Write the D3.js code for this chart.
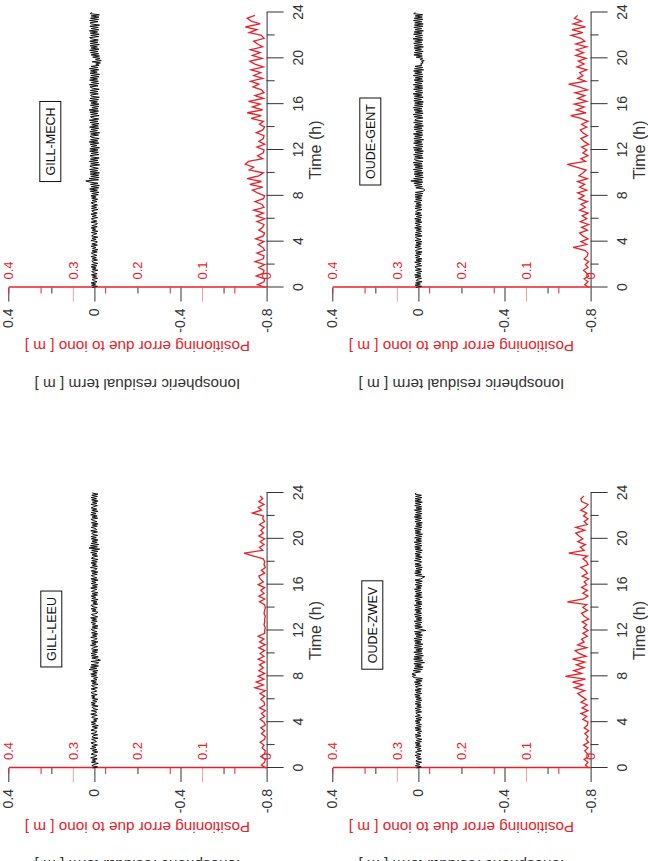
<!DOCTYPE html>
<html>
<head>
<meta charset="utf-8">
<script src="https://cdn.jsdelivr.net/npm/d3@7"></script>
<style>
  body { margin: 0; background: #fff; }
  svg { display: block; }
  text { font-family: "Liberation Sans", Arial, sans-serif; }
</style>
</head>
<body>
<svg id="chart" width="648" height="861"></svg>
<script>
// ionospheric residual term, mm, one sample every 6 min (0..24 h)
var gillLeeuResid = [
  8,-15,12,3,-18,14,-6,10,-13,17,-4,-12,15,6,-16,9,-11,18,-7,12,
  -14,5,16,-10,-3,13,-17,11,7,-15,14,-8,-12,16,2,-14,10,-18,13,-5,
  15,-11,4,-16,12,9,-13,17,-7,-10,14,-15,6,11,-17,13,-4,15,-12,8,
  -16,12,-3,14,-13,10,16,-11,-6,15,-14,7,13,-17,11,-9,16,-12,4,-15,
  14,-10,17,-13,8,-16,25,-12,18,-19,15,-14,-20,16,-28,-15,12,-18,14,-9,
  16,-14,10,-17,13,5,-15,18,-8,12,-16,14,-6,-13,17,-11,9,-15,13,-12,
  6,15,-14,11,-17,9,-5,16,-13,12,-10,17,-15,4,14,-12,-16,10,-8,15,
  -13,11,16,-15,7,-12,14,-17,12,-6,15,-14,10,-16,13,3,-11,17,-13,9,
  -15,14,-8,12,-17,16,-11,5,14,-13,11,-16,15,-7,-12,18,-14,10,-9,16,
  -13,12,-17,14,6,-15,11,-12,17,-16,13,-24,25,-14,18,-20,15,-13,11,-17,
  14,-9,16,-15,8,12,-14,17,-11,-6,15,-13,10,-17,14,-12,5,16,-15,11,
  -13,17,-8,14,-16,12,-11,15,3,-14,16,-12,9,-17,13,-10,15,-14,12,-16,
  10];
var gillMechResid = [
  10,-14,13,-6,15,-12,4,11,-15,9,-10,14,-13,7,12,-16,10,-8,15,-11,
  13,-15,6,12,-14,10,-9,16,-12,3,14,-13,11,-16,9,-7,15,-14,12,-10,
  -13,16,-8,11,-15,13,5,-12,14,-16,10,-6,15,-13,12,-10,-14,16,-11,8,
  14,-15,11,-9,16,-13,7,12,-16,14,-10,13,-14,6,15,-12,10,-15,13,-8,
  16,-18,12,-21,19,-14,22,-20,15,-23,18,-16,21,40,-19,24,-22,17,-20,19,
  -23,20,-15,22,-18,9,21,-24,17,-19,23,-16,18,-22,14,20,-21,16,-18,22,
  -17,21,-23,15,-12,19,-20,24,-16,18,-22,11,20,-19,17,-24,21,-14,16,-20,
  22,-18,13,-21,19,-16,23,-20,8,18,-22,17,-15,21,-19,24,-17,12,-20,18,
  -21,16,-14,22,-19,20,-23,15,17,-18,21,-16,19,-22,10,20,-17,23,-20,14,
  -18,22,-15,19,-21,17,-24,20,-13,18,-20,23,-17,15,-22,-6,-28,10,-32,-5,
  -26,8,-24,15,-20,18,-17,22,-21,16,-14,20,-23,19,-16,21,-18,12,22,-20,
  17,-22,19,-15,23,-20,16,-18,21,-24,14,20,-17,22,-19,18,-21,15,-23,20,
  12];
var oudeZwevResid = [
  9,-13,14,-7,11,-15,12,5,-14,10,-9,16,-12,8,13,-15,6,-11,14,-13,
  12,-8,15,-14,10,-16,7,13,-12,15,-10,4,-15,13,-11,16,-13,9,-14,12,
  -7,15,-13,11,-16,14,-9,6,12,-15,13,-10,16,-14,8,-12,15,-11,13,-16,
  10,-13,14,-8,17,-15,12,-11,16,-14,9,13,-17,15,-10,18,-16,12,-19,20,
  28,12,30,18,-10,24,-18,20,-22,16,-14,21,-28,17,-20,22,-15,19,-23,14,
  -18,21,-16,12,-20,19,-14,17,-21,15,-12,18,-17,20,-15,11,-19,16,-13,18,
  -35,-10,15,-18,17,-12,14,-16,19,-14,10,-17,16,-13,18,-15,12,-11,17,-16,
  14,-12,18,-17,11,-15,16,-9,13,-18,17,-14,12,-16,15,-11,18,-13,10,-17,
  15,-14,12,-18,16,-11,-20,-30,13,-15,17,-12,14,-16,11,-18,15,-13,16,-10,
  -15,18,-12,14,-17,13,-9,16,-14,12,-18,15,-11,17,-16,14,-13,19,-15,11,
  -14,17,-16,12,-19,15,-10,16,-13,18,-17,13,-15,11,-18,16,-12,14,-16,19,
  -13,15,-17,12,-14,18,-16,11,-15,17,-12,14,-18,16,-11,15,-17,13,-14,16,
  10];
var oudeGentResid = [
  12,-15,16,-9,13,-17,10,6,-14,15,-12,17,-11,8,-16,14,-13,11,16,-15,
  9,-12,17,-14,11,-16,13,-7,15,-13,12,-17,14,5,-15,16,-10,13,-14,11,
  -16,15,-12,9,14,-17,16,-11,13,-15,10,-13,17,-14,12,-9,15,-16,13,-12,
  17,-14,10,-16,15,-11,13,8,-17,16,-13,14,-15,11,-12,18,-16,13,-14,15,
  -18,16,-20,14,-22,-30,-24,12,-19,17,-16,21,-20,35,-18,22,-23,16,-19,20,
  -22,18,-16,23,-20,15,-19,21,-17,24,-21,13,19,-22,17,-18,22,-20,16,-23,
  20,-17,23,-21,14,-19,22,-16,18,-24,21,-15,17,-20,23,-18,12,-22,19,-17,
  21,-23,16,-18,22,-20,17,10,-21,19,-17,24,-22,15,-19,20,-16,23,-21,18,
  -20,17,-23,21,-15,19,-22,18,-16,24,-20,14,-18,22,-21,17,-19,23,-17,16,
  -22,20,-18,15,-21,23,-19,17,-16,22,-24,18,-20,16,-17,-10,-22,-14,-27,-8,
  -20,10,-18,21,-17,19,-22,16,-14,20,-23,18,-19,22,-16,17,-21,24,-18,15,
  -19,22,-17,20,-23,16,-15,21,-20,18,-22,17,-16,23,-21,19,-18,15,-20,22,
  14];

// positioning error due to iono, mm, one sample every 15 min (0..23.75 h)
var gillLeeuPos = [1,8,3,2,9,3,2,7,4,10,3,2, 8,3,9,2,4,10,3,8,2,11,3,4,
  9,3,10,2,18,5,16,4,13,3,12,5, 11,3,13,4,10,3,12,2,11,4,13,3,
  3,2,4,3,3,2,4,3,2,3,11,3, 12,4,9,3,13,5,10,12,3,8,2,4,
  3,5,20,35,6,11,4,10,3,12,5,9, 4,11,3,6,5,22,8,13,4,12,6,10];
var gillMechPos = [2,14,4,3,16,5,4,12,3,18,5,4, 15,3,6,13,4,17,5,3,12,6,4,15,
  3,16,5,20,4,7,18,5,3,14,22,6, 26,8,30,12,5,27,20,33,28,6,14,5,
  4,15,3,12,5,4,16,6,3,11,5,24, 8,30,6,22,10,28,5,18,4,8,21,12,
  25,6,20,9,24,5,18,26,7,22,10,25, 6,14,20,4,8,27,15,33,10,24,30,18];
var oudeZwevPos = [3,8,4,10,3,5,9,4,11,3,7,4, 9,3,10,5,4,12,6,15,4,13,5,15,
  7,14,20,9,25,12,28,8,39,14,26,10, 22,9,28,7,18,24,6,20,10,14,5,12,
  4,11,6,13,3,10,14,5,12,6,36,11, 4,12,5,14,6,10,3,13,5,9,15,4,
  6,12,5,34,10,16,8,20,12,18,23,9, 23,5,10,4,11,6,15,8,4,14,15,10];
var oudeGentPos = [3,9,4,10,3,6,11,4,8,3,10,5, 4,9,27,6,15,4,12,17,5,14,3,16,
  6,13,4,17,8,15,5,18,10,20,6,17, 9,20,5,18,12,7,22,36,8,15,4,12,
  6,14,3,10,15,5,12,16,6,14,4,15, 31,7,22,10,25,6,20,9,24,5,18,34,
  8,20,12,17,6,21,10,19,7,23,11,22, 6,23,9,15,30,12,29,8,27,14,25,20];

var residStepH = 0.1;
var posStepH = 0.25;

var timeTicks = [0, 4, 8, 12, 16, 20, 24];
var timeMinor = [2, 6, 10, 14, 18, 22];
var residTicks = [0.4, 0, -0.4, -0.8];
var residMinor = [0.2, -0.2, -0.6];
var posLabels = [0.4, 0.3, 0.2, 0.1, 0];
var posMid = [0.3, 0.1];
var posMinor = [0.4, 0.35, 0.25, 0.15, 0.05];

var RED = "#e8222a", PINK = "#f2a3a3", INK = "#333";
var panelW = 275, panelH = 258.3;

// the page is drawn landscape (861 x 648) and turned a quarter left
var panels = [
  { name: "GILL-LEEU", resid: gillLeeuResid, pos: gillLeeuPos, x0: 93,    y0: 8.3,   boxX: 139, boxY: 43 },
  { name: "GILL-MECH", resid: gillMechResid, pos: gillMechPos, x0: 573.5, y0: 8.3,   boxX: 146, boxY: 42 },
  { name: "OUDE-ZWEV", resid: oudeZwevResid, pos: oudeZwevPos, x0: 93,    y0: 332.3, boxX: 143, boxY: 40 },
  { name: "OUDE-GENT", resid: oudeGentResid, pos: oudeGentPos, x0: 573.5, y0: 332.3, boxX: 146, boxY: 38 }
];

var svg = d3.select("#chart");
var page = svg.append("g").attr("transform", "translate(0,861) rotate(-90)");

function styleAxis(sel, color, size) {
  sel.selectAll("path, line").attr("stroke", color);
  sel.selectAll("text").attr("fill", color).style("font-size", size + "px")
    .style("font-family", '"Liberation Sans", Arial, sans-serif');
}

panels.forEach(function (p) {
  var g = page.append("g").attr("transform", "translate(" + p.x0 + "," + p.y0 + ")");

  var x = d3.scaleLinear().domain([0, 24]).range([0, panelW]);
  var yR = d3.scaleLinear().domain([-0.8, 0.4]).range([panelH, 0]);
  var yP = d3.scaleLinear().domain([0, 0.4]).range([panelH, 0]);

  // time axis
  var tMinor = g.append("g").attr("transform", "translate(0," + panelH + ")")
    .call(d3.axisBottom(x).tickValues(timeMinor).tickSize(8).tickFormat(""));
  tMinor.select(".domain").remove();
  styleAxis(tMinor, INK, 14);
  var tMajor = g.append("g").attr("transform", "translate(0," + panelH + ")")
    .call(d3.axisBottom(x).tickValues(timeTicks).tickSize(17).tickSizeOuter(0).tickPadding(9.5).tickFormat(String));
  styleAxis(tMajor, INK, 14);

  // black residual axis
  var rMinor = g.append("g").call(d3.axisLeft(yR).tickValues(residMinor).tickSize(6).tickFormat(""));
  rMinor.select(".domain").remove();
  styleAxis(rMinor, INK, 14);
  var rMajor = g.append("g").call(d3.axisLeft(yR).tickValues(residTicks).tickSize(14).tickPadding(7).tickFormat(String));
  rMajor.select(".domain").remove();
  styleAxis(rMajor, INK, 14);

  // red positioning axis
  var pMid = g.append("g").call(d3.axisLeft(yP).tickValues(posMid).tickSize(14).tickFormat(""));
  pMid.select(".domain").remove();
  styleAxis(pMid, PINK, 13);
  var pMinor = g.append("g").call(d3.axisLeft(yP).tickValues(posMinor).tickSize(6).tickSizeOuter(0).tickFormat(""));
  styleAxis(pMinor, RED, 13);
  pMinor.select(".domain").attr("stroke-width", 1.3);
  var pLab = g.append("g").call(d3.axisRight(yP).tickValues(posLabels).tickSize(0).tickPadding(8)
    .tickFormat(function (d) { return d === 0 ? "0" : d3.format(".1f")(d); }));
  pLab.select(".domain").remove();
  styleAxis(pLab, RED, 13);

  // series
  g.append("path")
    .datum(p.resid)
    .attr("fill", "none")
    .attr("stroke", "#111")
    .attr("stroke-width", 1)
    .attr("d", d3.line().x(function (d, i) { return x(i * residStepH); })
      .y(function (d) { return yR(d / 1000); }));

  g.append("path")
    .datum(p.pos)
    .attr("fill", "none")
    .attr("stroke", RED)
    .attr("stroke-width", 1.3)
    .attr("d", d3.line().x(function (d, i) { return x(i * posStepH); })
      .y(function (d) { return yP(d / 1000); }));

  // titles
  g.append("text")
    .attr("x", panelW / 2).attr("y", panelH + 48.5).attr("dy", "0.35em")
    .attr("text-anchor", "middle").attr("fill", INK).style("font-size", "16px")
    .text("Time (h)");
  g.append("text")
    .attr("transform", "translate(-59," + panelH / 2 + ") rotate(-90)")
    .attr("dy", "0.35em").attr("text-anchor", "middle").attr("fill", RED)
    .style("font-size", "15.3px")
    .text("Positioning error due to iono [ m ]");
  g.append("text")
    .attr("transform", "translate(-97," + panelH / 2 + ") rotate(-90)")
    .attr("dy", "0.35em").attr("text-anchor", "middle").attr("fill", INK)
    .style("font-size", "15.3px")
    .text("Ionospheric residual term [ m ]");

  // station label box
  var box = g.append("g");
  var lab = box.append("text")
    .attr("x", p.boxX).attr("y", p.boxY).attr("dy", "0.35em")
    .attr("text-anchor", "middle").attr("fill", "#111").style("font-size", "12.5px")
    .text(p.name);
  var w = lab.node().getComputedTextLength() + 12;
  box.insert("rect", ":first-child")
    .attr("x", p.boxX - w / 2).attr("y", p.boxY - 10.5)
    .attr("width", w).attr("height", 21)
    .attr("fill", "#fff").attr("stroke", "#111").attr("stroke-width", 1);
});
</script>
</body>
</html>
